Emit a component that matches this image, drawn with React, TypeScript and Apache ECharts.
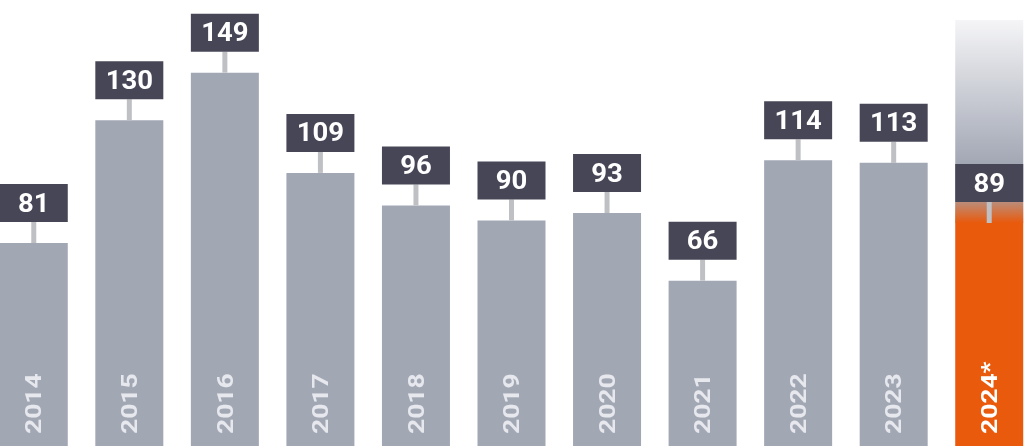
import React, { useEffect, useRef } from "react";
import * as echarts from "echarts";

const categories = ["2014", "2015", "2016", "2017", "2018", "2019", "2020", "2021", "2022", "2023", "2024*"];
const values = [81, 130, 149, 109, 96, 90, 93, 66, 114, 113, 89];
const projected = [false, false, false, false, false, false, false, false, false, false, true];

const GREY = "#a2a7b4";
const ORANGE = "#e95a0c";
const BOX = "#474657";
const STEM = "#bfc0c4";
const BAR_W = 68;
const GRADIENT_TOP_VALUE = 170;

export default function App() {
  const ref = useRef<HTMLDivElement>(null);
  useEffect(() => {
    if (!ref.current) return;
    const chart = echarts.init(ref.current, undefined, { renderer: "svg" });
    const half = BAR_W / 2;
    chart.setOption({
      animation: false,
      grid: { left: -14, top: 0, width: 1051, bottom: 0, outerBoundsMode: "none" },
      xAxis: { type: "category", data: categories, show: false },
      yAxis: { type: "value", min: 0, max: 178, show: false },
      series: [
        {
          type: "bar",
          barWidth: BAR_W,
          z: 2,
          data: values.map((v, i) => ({ value: v, itemStyle: { color: projected[i] ? ORANGE : GREY } })),
        },
        {
          type: "custom",
          z: 3,
          data: values.map((v, i) => [i, v]),
          renderItem: (params: any, api: any) => {
            const i = api.value(0);
            const v = api.value(1);
            const [cx, top] = api.coord([i, v]);
            const children: any[] = [];
            if (projected[i]) {
              const gTop = api.coord([i, GRADIENT_TOP_VALUE])[1];
              const h = top - gTop;
              const solidAt = Math.min(1, (top - 59 - gTop) / h);
              children.push({
                type: "rect",
                shape: { x: cx - half, y: gTop, width: BAR_W, height: h },
                style: {
                  fill: new echarts.graphic.LinearGradient(0, 0, 0, 1, [
                    { offset: 0, color: "#f5f5f7" },
                    { offset: solidAt, color: GREY },
                    { offset: 1, color: GREY },
                  ]),
                },
              });
              children.push({
                type: "rect",
                shape: { x: cx - half, y: top - 21, width: BAR_W, height: 21 },
                style: {
                  fill: new echarts.graphic.LinearGradient(0, 0, 0, 1, [
                    { offset: 0, color: "rgba(233,90,12,0.35)" },
                    { offset: 1, color: "rgba(233,90,12,1)" },
                  ]),
                },
              });
            }
            children.push({
              type: "rect",
              shape: { x: cx - 2.5, y: top - 21, width: 5, height: 21 },
              style: { fill: STEM },
            });
            children.push({
              type: "rect",
              shape: { x: cx - half, y: top - 59, width: BAR_W, height: 38 },
              style: { fill: BOX },
            });
            children.push({
              type: "text",
              x: cx,
              y: top - 40,
              scaleX: 1.1,
              style: {
                text: String(v),
                fill: "#ffffff",
                font: "bold 25px Roboto",
                align: "center",
                verticalAlign: "middle",
              },
            });
            children.push({
              type: "text",
              x: cx,
              y: 434,
              rotation: Math.PI / 2,
              scaleX: 1.2,
              style: {
                text: categories[i],
                fill: projected[i] ? "#ffffff" : "#e6e8ee",
                font: "bold 22px Roboto",
                align: "left",
                verticalAlign: "middle",
              },
            });
            return { type: "group", children };
          },
        },
      ],
    });
    return () => chart.dispose();
  }, []);
  return <div ref={ref} style={{ position: "fixed", left: 0, top: 0, width: 1024, height: 446 }} />;
}
